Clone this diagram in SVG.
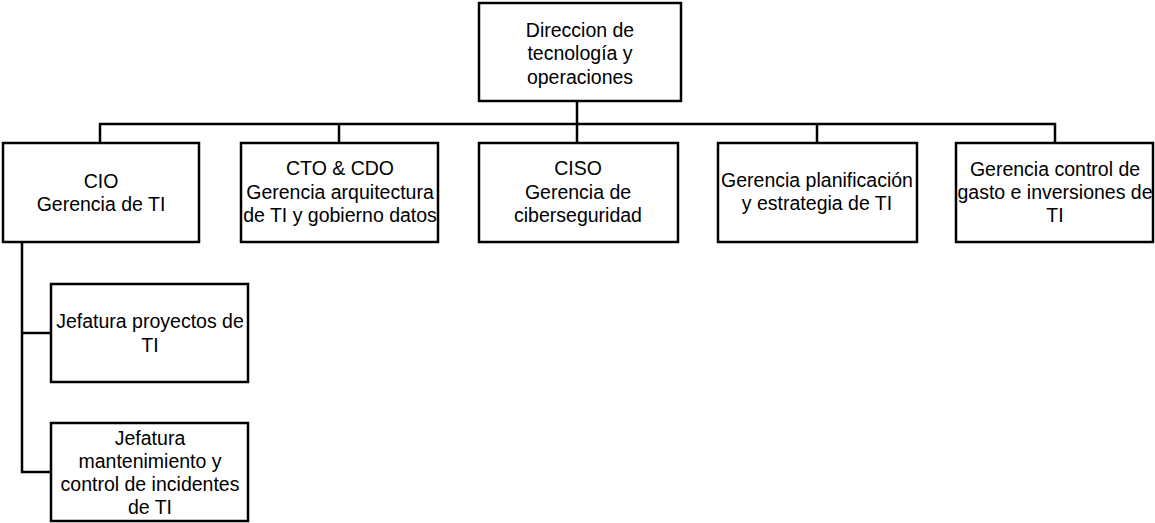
<svg xmlns="http://www.w3.org/2000/svg" width="1155" height="523" viewBox="0 0 1155 523">
  <style>
    .box { fill: #ffffff; stroke: #000000; stroke-width: 2.5; }
    .conn { fill: none; stroke: #000000; stroke-width: 2.5; }
    text { font-family: "Liberation Sans", Arial, sans-serif; font-size: 19.5px; fill: #000000; text-anchor: middle; }
  </style>
  <rect width="1155" height="523" fill="#ffffff"/>

  <!-- connectors -->
  <g id="connectors">
    <path class="conn" d="M577 101 V124"/>
    <path class="conn" d="M100 143 V124 H1055 V143"/>
    <path class="conn" d="M339 124 V143"/>
    <path class="conn" d="M577 124 V143"/>
    <path class="conn" d="M817 124 V143"/>
    <path class="conn" d="M22 242 V472 H51"/>
    <path class="conn" d="M22 333 H51"/>
  </g>

  <g id="node-direccion">
    <rect class="box" x="479" y="3" width="202" height="98"/>
    <text x="580" y="37">Direccion de</text>
    <text x="580" y="60">tecnología y</text>
    <text x="580" y="84">operaciones</text>
  </g>

  <g id="node-cio">
    <rect class="box" x="3" y="143" width="196" height="99"/>
    <text x="101" y="188">CIO</text>
    <text x="101" y="211">Gerencia de TI</text>
  </g>

  <g id="node-cto">
    <rect class="box" x="241" y="143" width="197" height="99"/>
    <text x="340" y="175">CTO &amp; CDO</text>
    <text x="340" y="199">Gerencia arquitectura</text>
    <text x="340" y="222">de TI y gobierno datos</text>
  </g>

  <g id="node-ciso">
    <rect class="box" x="479" y="143" width="199" height="99"/>
    <text x="578" y="175">CISO</text>
    <text x="578" y="199">Gerencia de</text>
    <text x="578" y="222">ciberseguridad</text>
  </g>

  <g id="node-planificacion">
    <rect class="box" x="718" y="143" width="199" height="99"/>
    <text x="817" y="187">Gerencia planificación</text>
    <text x="817" y="210">y estrategia de TI</text>
  </g>

  <g id="node-control-gasto">
    <rect class="box" x="956" y="143" width="197" height="99"/>
    <text x="1055" y="176">Gerencia control de</text>
    <text x="1055" y="199">gasto e inversiones de</text>
    <text x="1055" y="222">TI</text>
  </g>

  <g id="node-jefatura-proyectos">
    <rect class="box" x="51" y="284" width="197" height="98"/>
    <text x="150" y="328">Jefatura proyectos de</text>
    <text x="150" y="352">TI</text>
  </g>

  <g id="node-jefatura-mantenimiento">
    <rect class="box" x="51" y="423" width="197" height="98"/>
    <text x="150" y="445">Jefatura</text>
    <text x="150" y="468">mantenimiento y</text>
    <text x="150" y="491">control de incidentes</text>
    <text x="150" y="514">de TI</text>
  </g>
</svg>
